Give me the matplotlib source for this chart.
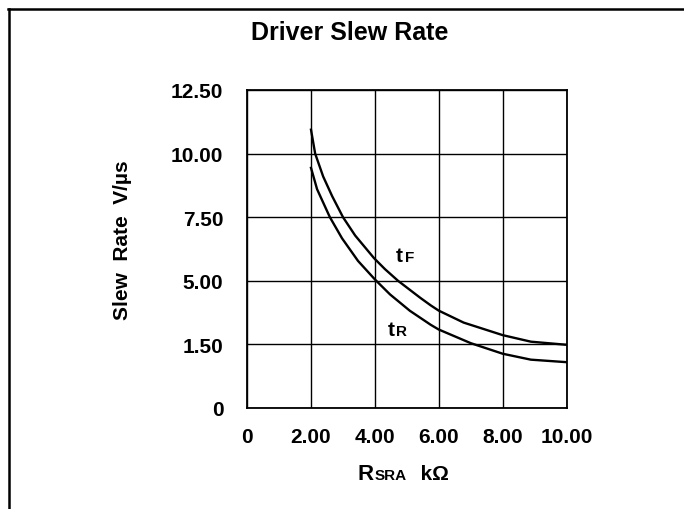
import numpy as np
import matplotlib
matplotlib.use("Agg")
import matplotlib.pyplot as plt
from matplotlib.lines import Line2D
from matplotlib.offsetbox import TextArea, HPacker, AnnotationBbox

plt.rcParams['font.family'] = ['Liberation Sans', 'DejaVu Sans']

# values (R_SRA in kOhm, slew rate in V/us)
r_fall = [2.0, 2.13, 2.38, 2.66, 3.0, 3.38, 3.97, 4.31, 4.72, 5.41, 5.74, 5.99, 6.77, 7.99, 8.87, 10.0]
t_fall = [10.94, 10.0, 9.10, 8.33, 7.5, 6.78, 5.89, 5.46, 5.0, 4.07, 3.65, 3.36, 2.70, 2.01, 1.65, 1.49]
r_rise = [2.0, 2.19, 2.59, 2.97, 3.47, 4.0, 4.47, 5.09, 5.74, 5.99, 6.99, 7.99, 8.87, 10.0]
t_rise = [9.44, 8.60, 7.5, 6.67, 5.78, 5.05, 4.25, 3.35, 2.58, 2.32, 1.57, 1.28, 1.14, 1.08]

x_ticks = [0, 2, 4, 6, 8, 10]
x_labels = ['0', '2.00', '4.00', '6.00', '8.00', '10.00']
y_ticks = [0, 1.5, 5.0, 7.5, 10.0, 12.5]
y_labels = ['0', '1.50', '5.00', '7.50', '10.00', '12.50']

# the printed grid is evenly spaced although the labels are not
idx = np.arange(len(y_ticks), dtype=float)
def fwd(v):
    return np.interp(v, y_ticks, idx)
def inv(p):
    return np.interp(p, idx, y_ticks)

fig = plt.figure(figsize=(6.84, 5.10), dpi=100)
ax = fig.add_axes([247/684, 1 - 409/510, 320/684, 318/510])
ax.set_yscale('function', functions=(fwd, inv))

ax.plot(r_fall, t_fall, color='black', lw=1.7)
ax.plot(r_rise, t_rise, color='black', lw=1.7)

ax.set_xlim(0, 10)
ax.set_ylim(0, 12.5)
ax.set_xticks(x_ticks)
ax.set_xticklabels(x_labels)
ax.set_yticks(y_ticks)
ax.set_yticklabels(y_labels)
ax.minorticks_off()
ax.grid(True, color='black', lw=1.0)
ax.tick_params(length=0, labelsize=15)
ax.tick_params(axis='y', pad=17)
ax.tick_params(axis='x', pad=14)
for lab in ax.get_xticklabels() + ax.get_yticklabels():
    lab.set_fontweight('bold')
for s in ax.spines.values():
    s.set_linewidth(1.3)

fig.text(122/684, 1 - 240/510, 'Slew  Rate  V/\u00b5s', rotation=90, ha='center', va='center',
         fontsize=15, fontweight='bold')

fig.text(350/684, 1 - 33/510, 'Driver Slew Rate', ha='center', va='center',
         fontsize=18, fontweight='bold')

def packed(parts, xy):
    boxes = [TextArea(t, textprops=dict(fontsize=fs, fontweight='bold')) for t, fs in parts]
    pack = HPacker(children=boxes, align='baseline', pad=0, sep=1)
    ab = AnnotationBbox(pack, xy, xycoords='figure fraction', frameon=False,
                        box_alignment=(0.5, 0.5))
    fig.add_artist(ab)

packed([('t', 15), ('F', 11)], (405/684, 1 - 257/510))
packed([('t', 15), ('R', 11)], (397/684, 1 - 330/510))
packed([('R', 16), ('SRA', 11), ('  k\u03a9', 15)], (403/684, 1 - 475/510))

# outer frame (top and left edges only)
fig.add_artist(Line2D([8/684, 1], [1 - 10/510, 1 - 10/510], color='black', lw=1.8,
                      transform=fig.transFigure))
fig.add_artist(Line2D([9/684, 9/684], [1 - 10/510, 0], color='black', lw=1.8,
                      transform=fig.transFigure))

fig.savefig('out.png', dpi=100)
